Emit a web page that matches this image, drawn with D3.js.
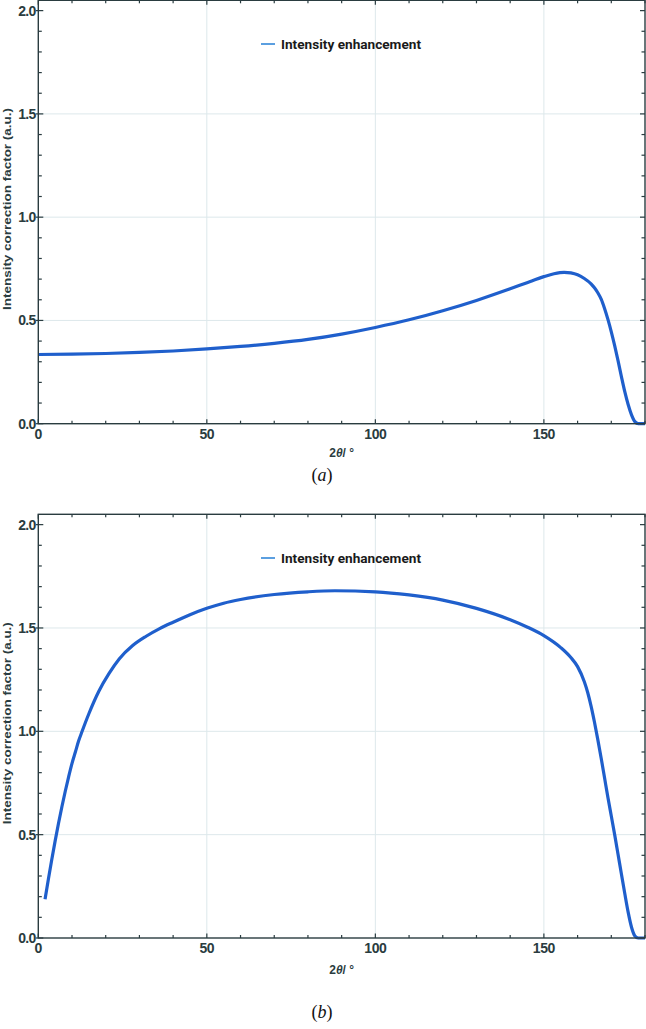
<!DOCTYPE html>
<html>
<head>
<meta charset="utf-8">
<script src="https://cdn.jsdelivr.net/npm/d3@7"></script>
<style>
  body { margin: 0; background: #fff; }
  svg { display: block; }
</style>
</head>
<body>
<svg id="chart" width="646" height="1029"></svg>
<script>
// DATA //

// panel (a)
const thetaA = [0, 10, 20, 30, 40, 50, 60, 70, 80, 90, 100, 110, 120, 130, 140, 145, 150, 153, 156, 158, 160, 162, 164, 165, 166, 167, 168, 169, 170, 171, 172, 173, 174, 175, 176, 177, 178, 180];
const valuesA = [0.335, 0.337, 0.340, 0.345, 0.352, 0.362, 0.374, 0.389, 0.408, 0.434, 0.466, 0.503, 0.547, 0.597, 0.653, 0.683, 0.712, 0.726, 0.733, 0.730, 0.721, 0.703, 0.677, 0.658, 0.634, 0.603, 0.558, 0.505, 0.445, 0.378, 0.305, 0.228, 0.155, 0.093, 0.043, 0.010, 0.0, 0.0];

// panel (b)
const thetaB = [2, 3, 4, 5, 6, 7, 8, 9, 10, 11, 12, 13, 15, 18, 21, 24, 28, 32, 36, 40, 45, 50, 55, 60, 70, 80, 88, 100, 110, 120, 130, 140, 145, 150, 155, 158, 160, 162, 163, 164, 165, 166, 167, 168, 169, 170, 171, 172, 173, 174, 175, 176, 177, 178, 180];
const valuesB = [0.187, 0.285, 0.38, 0.47, 0.555, 0.635, 0.71, 0.78, 0.845, 0.9, 0.955, 1.0, 1.085, 1.195, 1.28, 1.35, 1.415, 1.46, 1.497, 1.528, 1.564, 1.595, 1.62, 1.638, 1.662, 1.675, 1.68, 1.675, 1.66, 1.635, 1.595, 1.54, 1.505, 1.463, 1.405, 1.357, 1.313, 1.24, 1.188, 1.122, 1.045, 0.96, 0.87, 0.775, 0.68, 0.59, 0.5, 0.405, 0.31, 0.215, 0.125, 0.052, 0.01, 0.0, 0.0];

const xTicks = [0, 50, 100, 150];
const yTicks = [0.0, 0.5, 1.0, 1.5, 2.0];
const legendLabel = 'Intensity enhancement';
const yTitle = 'Intensity correction factor (a.u.)';

// SETTINGS //

const axisColor = '#2a3c40';
const gridColor = '#dde8eb';
const lineColor = '#1f5fcc';
const legendColor = '#5b9fe0';
const sans = '"Liberation Sans", Arial, sans-serif';

const svg = d3.select('#chart');

function drawPanel(opts) {
	const { top, bottom, xs, ys, caption, titleY, captionY, legendY } = opts;
	const left = 38.3, right = 645;

	const x = d3.scaleLinear().domain([0, 180]).range([left, right]);
	const y = d3.scaleLinear().domain([0, 2.05]).range([bottom, top]);

	const g = svg.append('g');

	// grid at major ticks
	g.selectAll('.gx')
		.data(xTicks.filter(d => d > 0))
		.enter().append('line')
		.attr('x1', d => x(d)).attr('x2', d => x(d))
		.attr('y1', top).attr('y2', bottom)
		.attr('stroke', gridColor).attr('stroke-width', 1);
	g.selectAll('.gy')
		.data(yTicks.filter(d => d > 0 && d < 2))
		.enter().append('line')
		.attr('x1', left).attr('x2', right)
		.attr('y1', d => y(d)).attr('y2', d => y(d))
		.attr('stroke', gridColor).attr('stroke-width', 1);

	// curve
	const line = d3.line()
		.x((d, i) => x(xs[i]))
		.y(d => y(d))
		.curve(d3.curveMonotoneX);
	g.append('path')
		.datum(ys)
		.attr('d', line)
		.attr('fill', 'none')
		.attr('stroke', lineColor)
		.attr('stroke-width', 3.2)
		.attr('stroke-linejoin', 'round');

	// frame
	g.append('rect')
		.attr('x', left).attr('y', top)
		.attr('width', right - left).attr('height', bottom - top)
		.attr('fill', 'none')
		.attr('stroke', axisColor).attr('stroke-width', 1.4);

	// minor + major ticks, inward on all four sides
	const xMinor = d3.range(0, 181, 10);
	const yMinor = d3.range(0, 21, 1).map(d => d / 10);
	xMinor.forEach(v => {
		const major = v % 50 === 0;
		const len = major ? 4.5 : 3;
		g.append('line').attr('x1', x(v)).attr('x2', x(v))
			.attr('y1', bottom).attr('y2', bottom - len)
			.attr('stroke', axisColor).attr('stroke-width', 1.2);
		g.append('line').attr('x1', x(v)).attr('x2', x(v))
			.attr('y1', top).attr('y2', top + len)
			.attr('stroke', axisColor).attr('stroke-width', 1.2);
	});
	yMinor.forEach(v => {
		const major = Math.round(v * 10) % 5 === 0;
		const len = major ? 5 : 3.5;
		g.append('line').attr('x1', left - (major ? 2.5 : 0)).attr('x2', left + len)
			.attr('y1', y(v)).attr('y2', y(v))
			.attr('stroke', axisColor).attr('stroke-width', 1.2);
		g.append('line').attr('x1', right).attr('x2', right - len)
			.attr('y1', y(v)).attr('y2', y(v))
			.attr('stroke', axisColor).attr('stroke-width', 1.2);
	});

	// tick labels
	g.selectAll('.xl')
		.data(xTicks)
		.enter().append('text')
		.attr('x', d => x(d)).attr('y', bottom + 15)
		.attr('text-anchor', 'middle')
		.attr('font-family', sans)
		.attr('font-weight', 'bold').attr('font-size', 14)
		.attr('letter-spacing', -0.4)
		.attr('fill', axisColor)
		.text(d => d);
	g.selectAll('.yl')
		.data(yTicks)
		.enter().append('text')
		.attr('x', left - 2.5).attr('y', d => y(d) + 5)
		.attr('text-anchor', 'end')
		.attr('font-family', sans)
		.attr('font-weight', 'bold').attr('font-size', 14)
		.attr('letter-spacing', -0.6)
		.attr('fill', axisColor)
		.text(d => d3.format('.1f')(d));

	// axis titles
	const xt = g.append('text')
		.attr('x', (left + right) / 2).attr('y', titleY)
		.attr('text-anchor', 'middle')
		.attr('font-family', sans)
		.attr('font-weight', 'bold').attr('font-size', 12)
		.attr('fill', axisColor);
	xt.append('tspan').text('2');
	xt.append('tspan').attr('font-style', 'italic').text('θ');
	xt.append('tspan').text('/ °');

	g.append('text')
		.attr('transform', `translate(10.5,${(top + bottom) / 2 - 3}) rotate(-90)`)
		.attr('text-anchor', 'middle')
		.attr('font-family', sans)
		.attr('font-weight', 'bold').attr('font-size', 11.5)
		.attr('textLength', 202).attr('lengthAdjust', 'spacingAndGlyphs')
		.attr('fill', axisColor)
		.text(yTitle);

	// legend
	g.append('line')
		.attr('x1', 261).attr('x2', 275)
		.attr('y1', legendY).attr('y2', legendY)
		.attr('stroke', legendColor).attr('stroke-width', 2);
	g.append('text')
		.attr('x', 281).attr('y', legendY + 4.5)
		.attr('font-family', 'Roboto, sans-serif')
		.attr('font-weight', 'bold').attr('font-size', 13.5)
		.attr('textLength', 140).attr('lengthAdjust', 'spacingAndGlyphs')
		.attr('fill', '#1a1a1a')
		.text(legendLabel);

	// caption
	const cap = svg.append('text')
		.attr('x', 322).attr('y', captionY)
		.attr('text-anchor', 'middle')
		.attr('font-family', '"Liberation Serif", "Times New Roman", serif')
		.attr('font-size', 18)
		.attr('fill', '#111');
	cap.append('tspan').text('(');
	cap.append('tspan').attr('font-style', 'italic').text(caption);
	cap.append('tspan').text(')');
}

drawPanel({ top: 0.3, bottom: 423.7, xs: thetaA, ys: valuesA, caption: 'a', titleY: 457, captionY: 481, legendY: 44 });
drawPanel({ top: 514.3, bottom: 938, xs: thetaB, ys: valuesB, caption: 'b', titleY: 974, captionY: 1018, legendY: 558 });
</script>
</body>
</html>
